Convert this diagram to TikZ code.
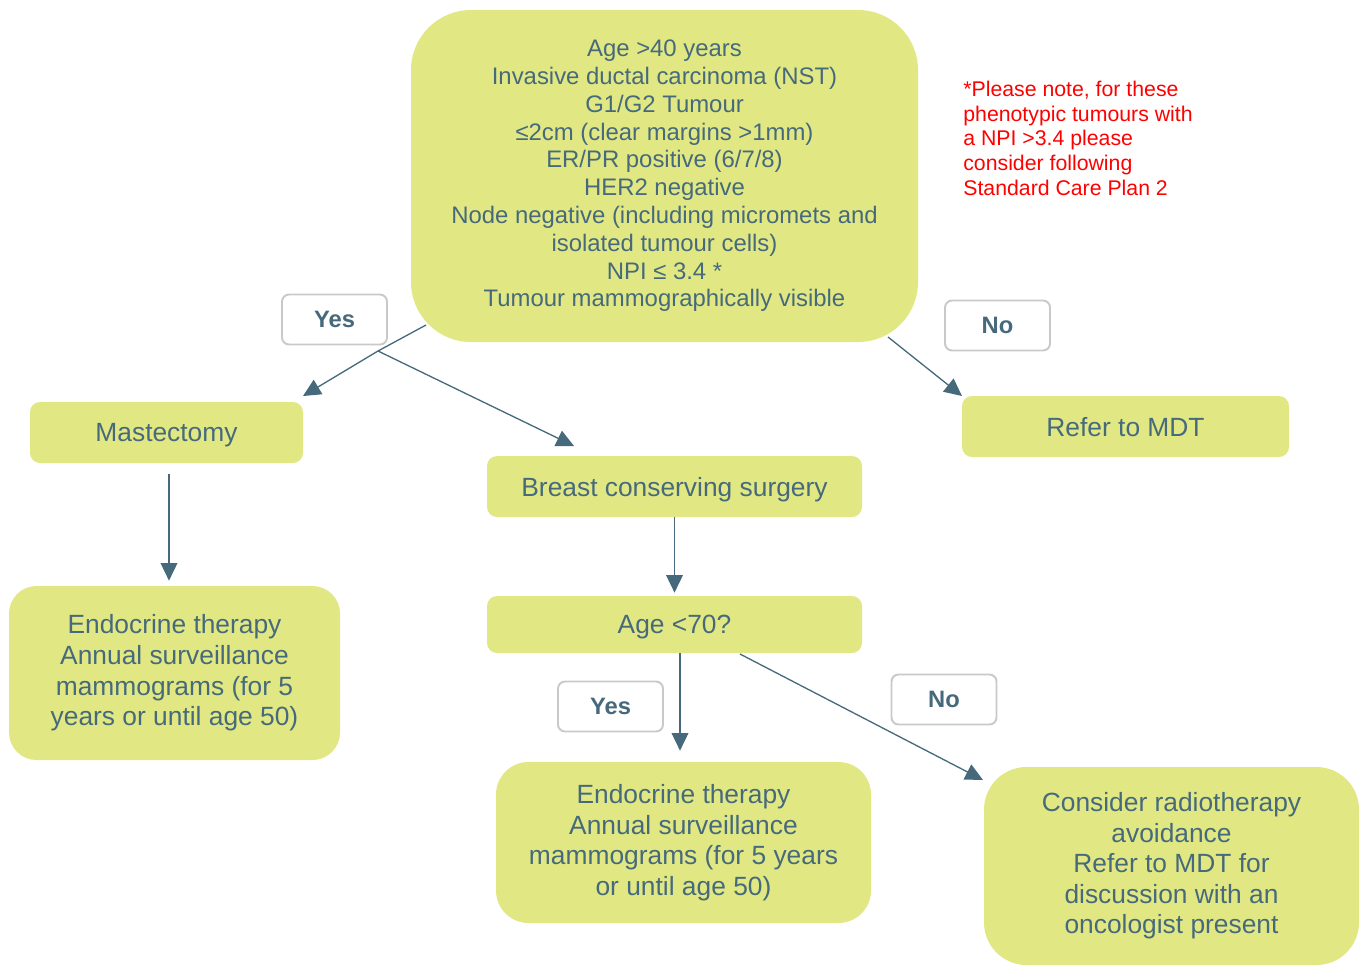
\documentclass[tikz,border=0pt]{standalone}
\usepackage{fontspec}
\setmainfont{Liberation Sans}
\usepackage{xcolor}
\usetikzlibrary{positioning, arrows.meta}

\definecolor{boxfill}{HTML}{E1E883}
\definecolor{boxtext}{HTML}{466A7B}
\definecolor{tagline}{HTML}{C8CACA}

\tikzset{
  stage/.style = {fill=boxfill, text=boxtext, align=center, inner sep=2pt,
    font=\fontsize{15}{17.4}\selectfont},
  oneline/.style = {stage, rounded corners=0.2cm, text depth=0pt},
  tag/.style = {draw=tagline, line width=1.1pt, fill=white, rounded corners=4pt,
    text=boxtext, font=\fontsize{13.5}{15}\selectfont\bfseries,
    minimum width=2.1cm, minimum height=1cm},
  flow/.style = {draw=boxtext, line width=0.75pt,
    -{Triangle[length=10pt, width=9.5pt]}}
}

\begin{document}
\begin{tikzpicture}
\useasboundingbox (0,0) rectangle (27.34,-19.3);

% Criteria box and note
\node[stage, rounded corners=1.2cm, minimum width=10.14cm, minimum height=6.64cm,
  font=\fontsize{13.6}{15.8}\selectfont] (crit) at (13.29,-3.52)
  {Age >40 years\\ Invasive ductal carcinoma (NST)\\ G1/G2 Tumour\\
   ≤2cm (clear margins >1mm)\\ ER/PR positive (6/7/8)\\ HER2 negative\\
   Node negative (including micromets and\\ isolated tumour cells)\\
   NPI ≤ 3.4 *\\ Tumour mammographically visible};
\node[anchor=north west, inner sep=0pt, text=red, align=left,
  font=\fontsize{12.1}{14}\selectfont] (note) at (19.26,-1.62)
  {*Please note, for these\\ phenotypic tumours with\\ a NPI >3.4 please\\
   consider following\\ Standard Care Plan 2};

% Outcome boxes
\node[oneline, minimum width=5.46cm, minimum height=1.22cm] (mast) at (3.33,-8.65) {Mastectomy};
\node[oneline, minimum width=6.54cm, minimum height=1.22cm] (mdt) at (22.51,-8.53) {Refer to MDT};
\node[oneline, minimum width=7.5cm, minimum height=1.22cm] (bcs) at (13.49,-9.73) {Breast conserving surgery};
\node[oneline, minimum width=7.5cm, minimum height=1.14cm] (age) at (13.49,-12.49) {Age <70?};
\node[stage, rounded corners=0.55cm, minimum width=6.62cm, minimum height=3.48cm] (endoL) at (3.49,-13.46)
  {Endocrine therapy\\ Annual surveillance\\ mammograms (for 5\\ years or until age 50)};
\node[stage, rounded corners=0.65cm, minimum width=7.5cm, minimum height=3.22cm] (endoM) at (13.67,-16.85)
  {Endocrine therapy\\ Annual surveillance\\ mammograms (for 5 years\\ or until age 50)};
\node[stage, rounded corners=0.85cm, minimum width=7.5cm, minimum height=3.96cm] (cons) at (23.43,-17.32)
  {Consider radiotherapy\\ avoidance\\ Refer to MDT for\\ discussion with an\\ oncologist present};

% Connector ends
\coordinate (critL) at (8.52,-6.5);
\coordinate (split) at (7.56,-7.02);
\coordinate (mastTip) at (6.06,-7.92);
\coordinate (bcsTip) at (11.48,-8.92);
\coordinate (critR) at (17.76,-6.74);
\coordinate (mdtTip) at (19.24,-7.92);
\coordinate (ageR) at (14.8,-13.08);
\coordinate (consTip) at (19.66,-15.6);
\coordinate (mastOut) at ([xshift=0.05cm]mast.south);
\coordinate (ageOut) at ([xshift=-0.07cm]age.south -| endoM.north);

% Connectors
\draw[flow, -] (critL) -- (split);
\draw[flow] (split) -- (mastTip);
\draw[flow] (split) -- (bcsTip);
\draw[flow] (critR) -- (mdtTip);
\draw[flow, shorten <=0.22cm, shorten >=0.1cm] (mastOut) -- (mastOut |- endoL.north);
\draw[flow, shorten >=0.06cm] (bcs.south) -- (age.north);
\draw[flow, shorten >=0.22cm] (ageOut) -- (ageOut |- endoM.north);
\draw[flow] (ageR) -- (consTip);

% Yes / No tags
\node[tag] (yesTop) at (6.69,-6.39) {Yes};
\node[tag] (noTop) at (19.95,-6.51) {No};
\node[tag] (yesAge) at (12.21,-14.13) {Yes};
\node[tag] (noAge) at (18.88,-13.99) {No};
\end{tikzpicture}
\end{document}
